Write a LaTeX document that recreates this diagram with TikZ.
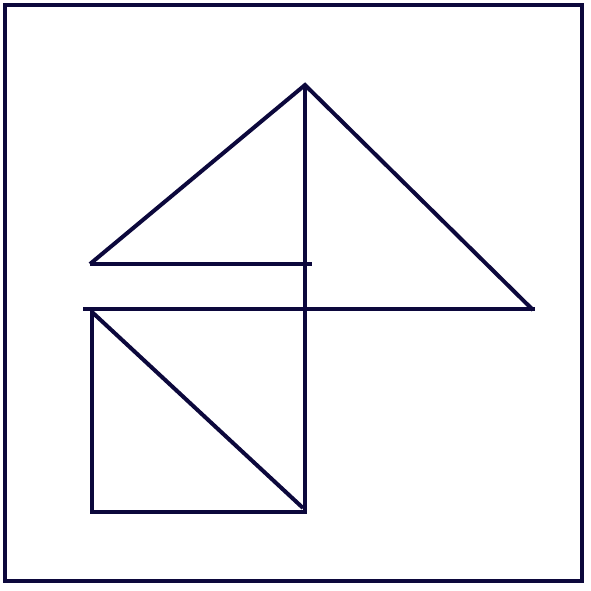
\documentclass[tikz,border=0pt]{standalone}
\usepackage{xcolor}
\usepackage{tikz}

\definecolor{navy}{RGB}{12,8,60}

\begin{document}
\begin{tikzpicture}[x=1pt,y=-1pt,line width=4pt,draw=navy]

    % page
    \useasboundingbox (0,0) rectangle (591,591);

    % frame
    \draw[navy] (5,5) rectangle (582,581);

    % upper triangles
    \draw[navy,line join=miter] (90,264) -- (305,85) -- (533,310);
    \draw[navy] (90,264) -- (312,264);
    \draw[navy] (83,309) -- (535,309);

    % vertical line
    \draw[navy] (305,85) -- (305,513);

    % square
    \draw[navy] (92,307) -- (92,512) -- (307,512);
    \draw[navy] (92,312) -- (303,508);

\end{tikzpicture}
\end{document}
